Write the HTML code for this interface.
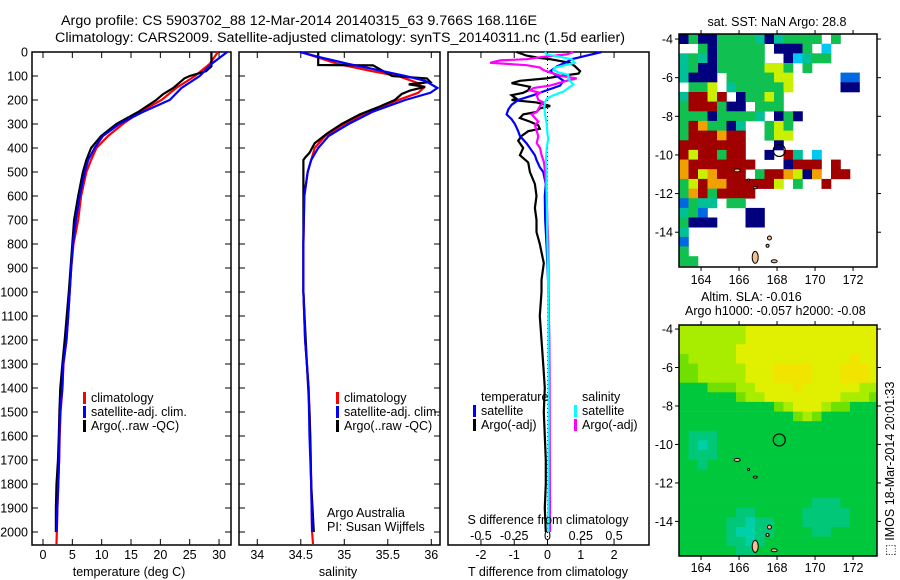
<!DOCTYPE html>
<html><head><meta charset="utf-8">
<style>
html,body{margin:0;padding:0;background:#fff;}
svg{display:block;font-family:"Liberation Sans",Arial,sans-serif;}
text{fill:#000;}
</style></head>
<body>
<svg id="fig" width="900" height="580" viewBox="0 0 900 580" xmlns="http://www.w3.org/2000/svg">
<text x="61" y="25" font-size="13.5" textLength="476" lengthAdjust="spacingAndGlyphs">Argo profile: CS 5903702_88 12-Mar-2014 20140315_63 9.766S 168.116E</text>
<text x="55" y="42" font-size="13.5" textLength="570" lengthAdjust="spacingAndGlyphs">Climatology: CARS2009. Satellite-adjusted climatology: synTS_20140311.nc (1.5d earlier)</text>
<g id="layer"></g>
</svg>
<script>
// ---------- data ----------
const depthTicks=[0,100,200,300,400,500,600,700,800,900,1000,1100,1200,1300,1400,1500,1600,1700,1800,1900,2000];
const tempTicks=[0,5,10,15,20,25,30];
const salTicks=[34,34.5,35,35.5,36];
const salTickLabels=["34","34.5","35","35.5","36"];
const dTTicks=[-2,-1,0,1,2];
const dSTicks=[-0.5,-0.25,0,0.25,0.5];
const dSTickLabels=["-0.5","-0.25","0","0.25","0.5"];

const climTD=[0,50,100,150,200,250,300,350,400,450,500,600,700,800,900,1000,1100,1200,1300,1400,1500,1600,1700,1800,1900,2000,2050];
const climT=[29.8,28.4,25.9,22.7,20.2,16.5,13.6,11.1,9.1,8.2,7.4,6.5,6.0,5.2,4.8,4.55,4.3,4.0,3.5,3.3,3.0,2.85,2.75,2.6,2.45,2.35,2.3];
const satTD=[0,50,100,150,200,250,300,350,400,450,500,600,700,800,900,1000,1100,1200,1300,1400,1500,1600,1700,1800,1900,2000];
const satT=[31.4,28.7,26.7,23.6,21.6,17,13,10.2,8.8,7.7,7.1,6.25,5.6,5.1,4.8,4.55,4.3,4.0,3.45,3.3,2.9,2.8,2.75,2.6,2.43,2.33];
const argoTD=[0,60,80,100,110,150,175,200,250,300,350,400,450,500,600,700,800,1000,1200,1300,1400,1500,1600,1700,1800,1900,2000];
const argoT=[28.7,28.7,27.8,25,24.1,22.2,20.5,19.3,16.2,12.5,9.9,8.2,7.4,6.8,6.0,5.3,5.0,4.4,3.7,3.3,2.95,2.8,2.7,2.55,2.3,2.2,2.2];

const climSD=[0,50,80,100,130,150,170,200,250,300,350,400,500,600,800,1000,1200,1300,1400,1600,1800,2000,2050];
const climS=[34.5,34.93,35.32,35.62,35.85,35.91,35.85,35.62,35.28,35.0,34.78,34.66,34.58,34.54,34.53,34.53,34.55,34.57,34.59,34.61,34.62,34.63,34.64];
const satSD=[0,20,50,70,100,120,150,170,200,230,250,300,350,400,450,500,600,800,1000,1200,1300,1400,1600,1800,2000];
const satS=[34.49,34.7,35.05,35.32,35.7,35.93,36.07,35.99,35.7,35.47,35.32,35.05,34.82,34.7,34.62,34.58,34.54,34.53,34.53,34.55,34.57,34.59,34.6,34.62,34.63];
const argoSD=[0,54,56,100,110,125,135,145,160,175,200,230,260,300,340,380,420,440,450,600,800,1000,1300,1500,1800,2000];
const argoS=[34.7,34.7,35.33,35.55,35.95,35.99,35.74,35.93,35.76,35.66,35.58,35.39,35.18,34.97,34.8,34.66,34.6,34.55,34.53,34.53,34.53,34.53,34.57,34.6,34.62,34.65];

const satDTD=[0,15,30,45,60,80,100,120,140,160,180,200,220,240,260,280,300,330,350,380,400,430,450,480,500,550,600,700,800,1000,1300,2000];
const satDT=[1.63,1.18,0.73,0.53,0.28,0.08,0.28,0.48,0.38,-0.03,-0.43,-0.88,-1.08,-1.18,-1.23,-1.08,-0.98,-0.88,-0.83,-0.63,-0.53,-0.38,-0.33,-0.23,-0.13,-0.05,-0.08,-0.07,-0.03,0.03,0.06,0.06];
const argoDTD=[0,15,25,30,45,60,80,90,100,110,120,130,145,160,170,180,195,200,210,225,235,250,260,275,290,305,320,330,350,370,400,430,460,500,550,600,650,700,750,800,880,950,1000,1100,1200,1300,1400,1500,1600,1700,1800,1900,2000];
const argoDT=[-0.93,-0.63,-0.23,0.08,0.68,0.83,0.98,0.93,0.38,-0.03,-0.83,-1.08,-0.53,-0.58,-0.73,-1.08,-0.93,-1.08,-0.33,0.08,-0.23,-0.33,-0.73,-0.83,-0.53,-0.28,-0.23,-0.58,-0.78,-0.88,-0.73,-0.83,-0.58,-0.53,-0.38,-0.33,-0.38,-0.33,-0.33,-0.23,-0.11,-0.18,-0.18,-0.23,-0.18,-0.13,-0.08,-0.11,-0.08,-0.05,-0.05,-0.08,-0.05];
const argoDSD=[0,10,20,30,35,45,55,65,75,85,100,110,120,140,150,160,170,180,200,210,225,250,260,275,290,305,330,350,380,400,430,460,500,550,600,700,800,1000,1300,2000];
const argoDS=[0.194,0.144,-0.031,-0.156,-0.356,-0.431,-0.156,-0.056,-0.031,0.019,0.106,0.219,0.144,0.019,-0.106,-0.131,-0.056,-0.081,-0.069,-0.031,-0.056,-0.081,-0.119,-0.094,-0.069,-0.094,-0.081,-0.069,-0.081,-0.056,-0.044,-0.026,-0.019,-0.011,-0.006,-0.001,0.006,0.009,0.014,0.019];
const satDSD=[0,10,20,30,45,55,65,75,85,95,110,120,135,150,165,180,195,210,230,260,300,340,360,400,450,500,600,800,1000,1500,2000];
const satDS=[-0.019,-0.006,0.094,0.181,0.206,0.131,0.056,0.044,0.081,0.156,0.156,0.169,0.194,0.156,0.119,0.044,-0.006,-0.019,-0.024,-0.019,-0.006,-0.001,0.006,-0.006,-0.011,-0.006,-0.006,-0.001,0.006,0.009,0.006];

const lonTicks=[164,166,168,170,172];
const latTicks=[-4,-6,-8,-10,-12,-14];
const argoLon=168.116, argoLat=-9.766;
const sstRows=[
"ngnnggggtntgggg.g....",
"..gnggggg.nnng.c.....",
"tgtnggggg..nctgg.....",
"tgnngggggyyg.g.......",
"tnnn.gggggyy.....bb..",
".ggy.tgggggy.....nn..",
"trryr.nggyg..........",
"grrrgnn.ggg..........",
"gggnggggt.ngn........",
"groggnt..gyg.........",
"grrrorr..gyy.........",
"rrrrrrr...n..........",
"ryrrgrr..n.rt.c......",
"orrrrrrr...nrrr.r....",
"oryorrr.grroyno.rr...",
"gyroorrrrry.g..r.....",
"gorgrrrr.............",
"bgtt.gg..............",
"tgb....nn............",
"gnnn...nn............",
"t....................",
"b....................",
"g....................",
"gg..................."];
const slaRows=[
"lllllllYYYYYYYYYYYYYY",
"lllllllYYYYYYYYYYYYYY",
"llllllYYYYYYYYYYYYYYY",
"LlllllYYYYYYYYYYYYoYY",
"LLlllllYYYooooYYYoooY",
"LLlllllYYYooooYYYoooY",
"GGGLLLllYYYYoYYYYYYll",
"GGGGGGLllYYYYYYYYlllL",
"GGGGGGGGGGLlYYYlLLGGG",
"GGGGGGGGGGGGLlLGGGGGG",
"GGGGGGGGGGGGGGGGGGGGG",
"GTTTGGGGGGGGGGGGGGGGG",
"GTCTGGGGGGGGGGGGGGGGG",
"GTTTGGGGGGGGGGGGGGGGG",
"GGTGGGGGGGGGGGGGGGGGG",
"GGGGGGGGGGGGGGGGGGGGG",
"GGGGGGGGGGGGGGGGGGGGG",
"GGGGGGGGGGGGGGGGGGGGG",
"GGGGGGGGGGGGGGTTTGGGG",
"GGGGGGTTGGGGGTTTTTGGG",
"GGGGGTTCTTGGGTTTTTGGG",
"GGGGGTCCTTGGGGTTGGGGG",
"GGGGGTTCTGGGGGGGGGGGG",
"GGGGGGTTGGGGGGGGGGGGG"];

// ---------- helpers ----------
const NS="http://www.w3.org/2000/svg";
const layer=document.getElementById('layer');
function mk(tag,attrs,parent){const e=document.createElementNS(NS,tag);for(const k in attrs)e.setAttribute(k,attrs[k]);(parent||layer).appendChild(e);return e;}
function txt(s,x,y,size,anchor,parent){const t=mk('text',{x:x,y:y,'font-size':size,'text-anchor':anchor||'start'},parent);t.textContent=s;return t;}

const TOP=52,BOT=545,PXD=0.24;
function yD(d){return TOP+d*PXD;}
const P1={l:32,r:231,x0:-1.875,x1:32.04};
const P2={l:239,r:440,x0:33.79,x1:36.10};
const P3={l:448,r:649,x0:-2.99,x1:3.05};
const S3={x0:-2.99/4,x1:3.05/4};
function xs(p,v){return p.l+(v-p.x0)/(p.x1-p.x0)*(p.r-p.l);}
function xsS(v){return P3.l+(v-S3.x0)/(S3.x1-S3.x0)*(P3.r-P3.l);}

function frame(p,name){
  const r=mk('rect',{x:p.l,y:TOP,width:p.r-p.l,height:BOT-TOP,fill:'none',stroke:'#000','stroke-width':1.5});
  
  
}
function line(p,D,V,color,name,fx){
  const pts=D.map((d,i)=>(fx?fx(V[i]):xs(p,V[i])).toFixed(1)+','+yD(d).toFixed(1)).join(' ');
  const e=mk('polyline',{points:pts,fill:'none',stroke:color,'stroke-width':2.2,'stroke-linejoin':'miter'});
  
  
}
function depthTicksOn(p,labels){
  depthTicks.forEach(d=>{
    const y=yD(d);
    mk('line',{x1:p.l,x2:p.l+6,y1:y,y2:y,stroke:'#000','stroke-width':1});
    mk('line',{x1:p.r,x2:p.r-6,y1:y,y2:y,stroke:'#000','stroke-width':1});
    if(labels){const t=txt(String(d),28,y+4.5,12.5,'end');
      
      }
  });
}
function xTicks(p,vals,labs,fx,ly){
  vals.forEach((v,i)=>{
    const x=fx?fx(v):xs(p,v);
    mk('line',{x1:x,x2:x,y1:TOP,y2:TOP+6,stroke:'#000','stroke-width':1});
    mk('line',{x1:x,x2:x,y1:BOT,y2:BOT-6,stroke:'#000','stroke-width':1});
    const t=txt(labs[i],x,ly,12.5,'middle');
    
    
  });
}
function legendEntry(x,y,color,label){
  const g=mk('g',{});
  
  
  if(color) mk('rect',{x:x,y:y-10,width:3,height:12,fill:color},g);
  txt(label,x+8,y,12.5,'start',g);
}

// ---------- panel 1 ----------
frame(P1,'temperature-panel');
depthTicksOn(P1,true);
xTicks(P1,tempTicks,tempTicks.map(String),null,559);
line(P1,climTD,climT,'#f00','climatology-temperature-line');
line(P1,argoTD,argoT,'#000','argo-temperature-line');
line(P1,satTD,satT,'#00f','satellite-temperature-line');
legendEntry(83,402,'#f00','climatology');
legendEntry(83,416,'#00f','satellite-adj. clim.');
legendEntry(83,430,'#000','Argo(..raw -QC)');
let t=txt('temperature (deg C)',129,576,12.5,'middle');



// ---------- panel 2 ----------
frame(P2,'salinity-panel');
depthTicksOn(P2,false);
xTicks(P2,salTicks,salTickLabels,null,559);
line(P2,climSD,climS,'#f00','climatology-salinity-line');
line(P2,argoSD,argoS,'#000','argo-salinity-line');
line(P2,satSD,satS,'#00f','satellite-salinity-line');
legendEntry(336,402,'#f00','climatology');
legendEntry(336,416,'#00f','satellite-adj. clim.');
legendEntry(336,430,'#000','Argo(..raw -QC)');
t=txt('Argo Australia',327,517,12.5);


t=txt('PI: Susan Wijffels',327,531,12.5);


t=txt('salinity',338,576,12.5,'middle');



// ---------- panel 3 ----------
frame(P3,'difference-panel');
const zx=xs(P3,0);
mk('line',{x1:zx,x2:zx,y1:TOP,y2:BOT,stroke:'#000','stroke-width':1,'stroke-dasharray':'1,3'});
xTicks(P3,dTTicks,dTTicks.map(String),null,559);
dSTicks.forEach((v,i)=>{const tt=txt(dSTickLabels[i],xsS(v),540,12.5,'middle');
  
  });
line(P3,argoDTD,argoDT,'#000','argo-temperature-difference-line');
line(P3,satDTD,satDT,'#00f','satellite-temperature-difference-line');
line(P3,argoDSD,argoDS,'#f0f','argo-salinity-difference-line',xsS);
line(P3,satDSD,satDS,'#0ff','satellite-salinity-difference-line',xsS);
t=txt('temperature',481,401,12.5);


t=txt('salinity',582,401,12.5);


legendEntry(473,415,'#00f','satellite');
legendEntry(473,429,'#000','Argo(-adj)');
legendEntry(574,415,'#0ff','satellite');
legendEntry(574,429,'#f0f','Argo(-adj)');
t=txt('S difference from climatology',548,524,12.5,'middle');


t=txt('T difference from climatology',548,576,12.5,'middle');



// ---------- maps ----------
const M1={l:679,r:877,t:34,b:267,lon0:162.84,lon1:173.26,lat0:-3.74,lat1:-15.8};
const M2={l:679,r:877,t:325,b:556,lon0:162.84,lon1:173.26,lat0:-3.79,lat1:-15.8};
function mx(m,lon){return m.l+(lon-m.lon0)/(m.lon1-m.lon0)*(m.r-m.l);}
function my(m,lat){return m.t+(lat-m.lat0)/(m.lat1-m.lat0)*(m.b-m.t);}
const sstCol={n:'#00007f',b:'#0068e0',c:'#00c8f0',t:'#00c098',g:'#10c050',G:'#40dc00',y:'#c8f000',o:'#f0a000',r:'#a00000'};
const slaCol={Y:'#e0f000',o:'#f0e400',l:'#a8ec00',L:'#70e000',G:'#00c83c',T:'#00c878',C:'#00d0a8'};
function drawGrid(m,rows,cmap,name){
  const g=mk('g',{});
  
  
  rows.forEach((row,ri)=>{
    for(let ci=0;ci<row.length;ci++){
      const c=cmap[row[ci]]; if(!c) continue;
      const lon=m.lon0+ci*0.5, lat=m.lat0-ri*0.5;
      const x=mx(m,lon), y=my(m,lat);
      const w=Math.min(mx(m,lon+0.5),m.r)-x, h=Math.min(my(m,lat-0.5),m.b)-y;
      if(w<=0||h<=0) continue;
      const r=mk('rect',{x:x.toFixed(1),y:y.toFixed(1),width:(w+0.3).toFixed(1),height:(h+0.3).toFixed(1),fill:c},g);
      
      
    }
  });
}
function islands(m){
  const g=mk('g',{});
  
  
  const isl=[[166.85,-15.3,3,6],[167.85,-15.5,3,1.5],[167.6,-14.3,2,2],[167.5,-14.7,1.5,1.5],[165.9,-10.8,3,1.5],[166.5,-11.3,1,1],[166.85,-11.7,2,1]];
  isl.forEach(s=>mk('ellipse',{cx:mx(m,s[0]),cy:my(m,s[1]),rx:s[2],ry:s[3],fill:'#f4c090',stroke:'#000','stroke-width':1},g));
}
function mapAxes(m,name,lonY){
  const r=mk('rect',{x:m.l,y:m.t,width:m.r-m.l,height:m.b-m.t,fill:'none',stroke:'#000','stroke-width':1.5});
  
  
  lonTicks.forEach(v=>{const x=mx(m,v);
    mk('line',{x1:x,x2:x,y1:m.t,y2:m.t-4,stroke:'#000'});
    mk('line',{x1:x,x2:x,y1:m.b,y2:m.b+4,stroke:'#000'});
    const tt=txt(String(v),x,lonY,12.5,'middle');
    
    });
  latTicks.forEach(v=>{const y=my(m,v);
    mk('line',{x1:m.l,x2:m.l-4,y1:y,y2:y,stroke:'#000'});
    mk('line',{x1:m.r,x2:m.r+4,y1:y,y2:y,stroke:'#000'});
    const tt=txt(String(v),673,y+4.5,12.5,'end');
    
    });
  const c=mk('circle',{cx:mx(m,argoLon),cy:my(m,argoLat),r:6,fill:'none',stroke:'#000','stroke-width':1.2});
  
  
}
drawGrid(M1,sstRows,sstCol,'sst-map-cells');
islands(M1);
mapAxes(M1,'sst-map',284);
drawGrid(M2,slaRows,slaCol,'sla-map-cells');
islands(M2);
mapAxes(M2,'sla-map',572);
t=txt('sat. SST: NaN  Argo: 28.8',777,26,12.5,'middle');


t=txt('Altim. SLA: -0.016',701,301,12.5);


t=txt('Argo h1000: -0.057  h2000: -0.08',685,315,12.5);


t=txt('\u2B1A IMOS 18-Mar-2014 20:01:33',0,0,12.5,'start');
t.setAttribute('transform','translate(894,556) rotate(-90)');


</script>
</body></html>
